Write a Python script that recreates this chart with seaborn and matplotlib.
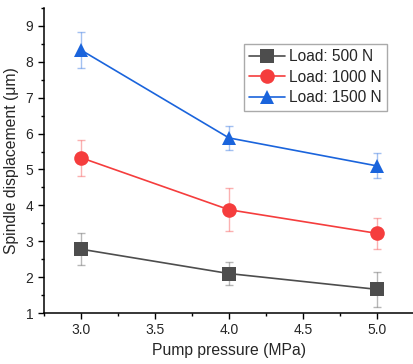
import pandas as pd
import matplotlib
matplotlib.use("Agg")
import matplotlib.pyplot as plt
import seaborn as sns
from matplotlib.ticker import MultipleLocator

pressure = [3.0, 4.0, 5.0]
loads = ["Load: 500 N", "Load: 1000 N", "Load: 1500 N"]
disp_500 = [2.78, 2.10, 1.66]
disp_1000 = [5.33, 3.88, 3.22]
disp_1500 = [8.33, 5.88, 5.10]
err_500 = [0.44, 0.33, 0.49]
err_1000 = [0.50, 0.60, 0.43]
err_1500 = [0.50, 0.33, 0.35]

colors = ["#4d4d4d", "#f53d3d", "#1a64dc"]
markers = ["s", "o", "^"]

rows = []
for name, vals in zip(loads, [disp_500, disp_1000, disp_1500]):
    for p, v in zip(pressure, vals):
        rows.append({"Pressure": p, "Displacement": v, "Load": name})
df = pd.DataFrame(rows)

sns.set_style("ticks")
plt.rcParams["font.family"] = ["Liberation Sans", "DejaVu Sans"]

fig = plt.figure(figsize=(4.14, 3.64), dpi=100)
ax = fig.add_axes([0.106, 0.14, 0.894, 0.838])

for name, errs, c in zip(loads, [err_500, err_1000, err_1500], colors):
    sub = df[df["Load"] == name]
    ax.errorbar(sub["Pressure"], sub["Displacement"], yerr=errs, fmt="none",
                ecolor=c, alpha=0.4, elinewidth=1, capsize=3, capthick=1, zorder=1)

sns.lineplot(data=df, x="Pressure", y="Displacement", hue="Load", style="Load",
             palette=colors, markers=markers, dashes=False, markersize=10.5,
             markeredgewidth=0, linewidth=1.2, ax=ax, zorder=3)

ax.set_xlim(2.75, 5.25)
ax.set_ylim(1, 9.5)
ax.xaxis.set_major_locator(MultipleLocator(0.5))
ax.xaxis.set_minor_locator(MultipleLocator(0.25))
ax.yaxis.set_major_locator(MultipleLocator(1))
ax.yaxis.set_minor_locator(MultipleLocator(0.5))
ax.tick_params(which="major", length=4, width=1, labelsize=10, color="black")
ax.tick_params(which="minor", length=2.5, width=1, color="black")
for s in ["left", "bottom"]:
    ax.spines[s].set_linewidth(1.1)
    ax.spines[s].set_color("black")
sns.despine(ax=ax)

ax.set_xlabel("Pump pressure (MPa)", fontsize=11.3)
ax.set_ylabel("Spindle displacement (\u03bcm)", fontsize=11.3, labelpad=5)

leg = ax.legend(loc="upper right", bbox_to_anchor=(0.927, 0.882), fontsize=11.2,
                fancybox=False, framealpha=1, edgecolor="#aaaaaa",
                handlelength=2.3, borderpad=0.35, labelspacing=0.35,
                handletextpad=0.25, borderaxespad=0)
leg.get_frame().set_linewidth(1)

fig.savefig("out.png", dpi=100)
